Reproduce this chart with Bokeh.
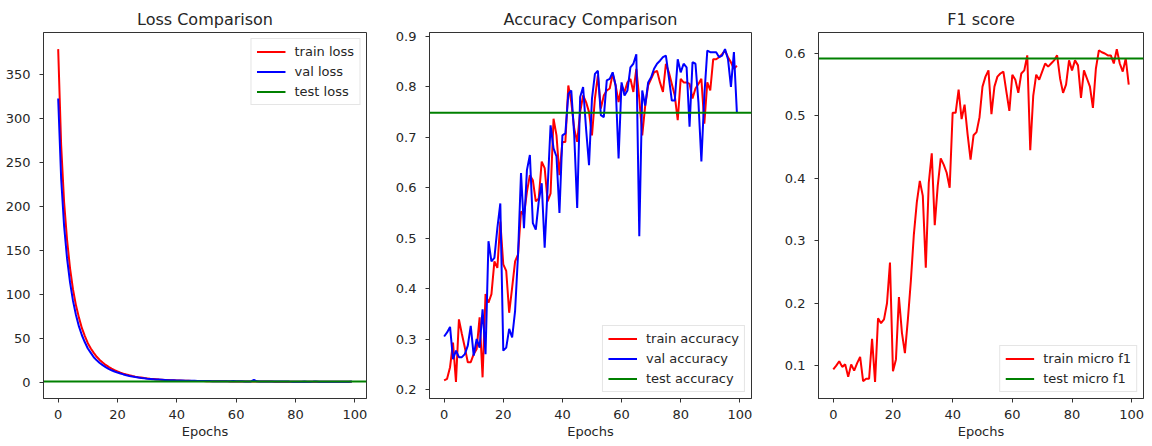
from bokeh.plotting import figure
from bokeh.layouts import row
from bokeh.models import Range1d, FixedTicker, Legend, LegendItem
from bokeh.embed import file_html
from bokeh.resources import INLINE

epochs = list(range(100))

train_loss = [379, 270, 205, 162, 130, 106, 88, 74, 62, 53,
              45, 39, 34, 29.5, 26, 23, 20.3, 18, 16, 14.3,
              12.8, 11.5, 10.4, 9.4, 8.5, 7.7, 7.0, 6.4, 5.9, 5.4,
              5.0, 4.6, 4.3, 4.0, 3.7, 3.5, 3.3, 3.1, 2.9, 2.75,
              2.6, 2.5, 2.4, 2.3, 2.2, 2.1, 2.05, 2.0, 1.95, 1.9,
              1.85, 1.8, 1.78, 1.75, 1.7, 1.68, 1.65, 1.6, 1.58, 1.55,
              1.52, 1.5, 1.48, 1.45, 1.43, 1.42, 1.45, 1.4, 1.38, 1.36,
              1.35, 1.33, 1.32, 1.3, 1.29, 1.28, 1.27, 1.26, 1.25, 1.24,
              1.23, 1.22, 1.21, 1.2, 1.19, 1.18, 1.17, 1.16, 1.15, 1.14,
              1.13, 1.12, 1.11, 1.1, 1.09, 1.08, 1.07, 1.06, 1.05, 1.04]
val_loss = [323, 232, 178, 141, 114, 93, 77, 64, 54, 46,
            39, 34, 29, 25.5, 22.5, 20, 17.8, 15.8, 14.2, 12.8,
            11.6, 10.5, 9.5, 8.6, 7.8, 7.1, 6.5, 6.0, 5.5, 5.1,
            4.7, 4.4, 4.1, 3.8, 3.6, 3.4, 3.2, 3.0, 2.9, 2.8,
            2.65, 2.55, 2.45, 2.35, 2.3, 2.25, 2.2, 2.1, 2.05, 2.1,
            1.95, 1.9, 1.85, 1.85, 1.8, 1.75, 1.75, 1.7, 1.7, 1.9,
            1.65, 1.65, 1.6, 1.55, 1.55, 1.5, 3.2, 1.6, 1.55, 1.5,
            1.45, 1.45, 1.4, 1.4, 1.4, 1.35, 1.4, 1.45, 1.35, 1.3,
            1.3, 1.3, 1.3, 1.45, 1.25, 1.25, 1.35, 1.5, 1.3, 1.2,
            1.2, 1.2, 1.2, 1.2, 1.2, 1.15, 1.2, 1.25, 1.15, 1.4]
test_loss = 1.5

train_acc = [0.218, 0.221, 0.244, 0.293, 0.215, 0.339, 0.310, 0.283, 0.254, 0.254,
             0.270, 0.280, 0.343, 0.224, 0.389, 0.372, 0.389, 0.454, 0.441, 0.533,
             0.448, 0.435, 0.352, 0.402, 0.454, 0.468, 0.553, 0.546, 0.592, 0.625,
             0.615, 0.573, 0.579, 0.652, 0.639, 0.573, 0.589, 0.737, 0.704, 0.625,
             0.691, 0.691, 0.803, 0.770, 0.717, 0.691, 0.750, 0.783, 0.770, 0.750,
             0.704, 0.777, 0.823, 0.757, 0.783, 0.793, 0.797, 0.826, 0.803, 0.770,
             0.803, 0.790, 0.809, 0.816, 0.790, 0.836, 0.777, 0.704, 0.763, 0.803,
             0.816, 0.829, 0.832, 0.809, 0.790, 0.846, 0.829, 0.806, 0.783, 0.734,
             0.816, 0.809, 0.809, 0.806, 0.777, 0.797, 0.806, 0.816, 0.727, 0.809,
             0.793, 0.855, 0.855, 0.859, 0.865, 0.872, 0.859, 0.849, 0.836, 0.842]
val_acc = [0.305, 0.313, 0.324, 0.260, 0.277, 0.264, 0.264, 0.270, 0.287, 0.326,
           0.267, 0.300, 0.283, 0.359, 0.270, 0.494, 0.454, 0.461, 0.520, 0.569,
           0.277, 0.283, 0.320, 0.303, 0.356, 0.468, 0.629, 0.520, 0.635, 0.665,
           0.530, 0.517, 0.573, 0.609, 0.481, 0.599, 0.724, 0.678, 0.662, 0.550,
           0.704, 0.708, 0.786, 0.793, 0.704, 0.560, 0.780, 0.800, 0.717, 0.645,
           0.777, 0.826, 0.832, 0.744, 0.740, 0.813, 0.816, 0.829, 0.803, 0.658,
           0.809, 0.783, 0.793, 0.839, 0.846, 0.865, 0.504, 0.793, 0.763, 0.809,
           0.819, 0.836, 0.846, 0.852, 0.859, 0.862, 0.819, 0.773, 0.773, 0.855,
           0.829, 0.846, 0.839, 0.721, 0.849, 0.846, 0.770, 0.652, 0.783, 0.872,
           0.869, 0.869, 0.869, 0.859, 0.862, 0.875, 0.855, 0.800, 0.869, 0.750]
test_acc = 0.749

train_f1 = [0.094, 0.100, 0.107, 0.098, 0.102, 0.082, 0.102, 0.092, 0.104, 0.114,
            0.075, 0.079, 0.079, 0.143, 0.074, 0.176, 0.168, 0.174, 0.200, 0.265,
            0.091, 0.110, 0.210, 0.153, 0.120, 0.174, 0.236, 0.310, 0.362, 0.396,
            0.372, 0.257, 0.393, 0.440, 0.325, 0.388, 0.432, 0.422, 0.409, 0.385,
            0.505, 0.505, 0.542, 0.495, 0.518, 0.471, 0.430, 0.469, 0.474, 0.498,
            0.547, 0.563, 0.573, 0.503, 0.547, 0.563, 0.568, 0.571, 0.539, 0.508,
            0.566, 0.558, 0.537, 0.568, 0.573, 0.597, 0.445, 0.532, 0.566, 0.558,
            0.571, 0.584, 0.579, 0.584, 0.589, 0.597, 0.560, 0.537, 0.550, 0.589,
            0.573, 0.589, 0.581, 0.529, 0.573, 0.560, 0.547, 0.513, 0.576, 0.605,
            0.602, 0.600, 0.597, 0.597, 0.584, 0.607, 0.584, 0.571, 0.592, 0.550]
test_f1 = 0.592

x_ticks = [0, 20, 40, 60, 80, 100]
loss_ticks = [0, 50, 100, 150, 200, 250, 300, 350]
acc_ticks = [0.2, 0.3, 0.4, 0.5, 0.6, 0.7, 0.8, 0.9]
f1_ticks = [0.1, 0.2, 0.3, 0.4, 0.5, 0.6]

FONT = "DejaVu Sans"
TXT = "#262626"
EDGE = "#333333"


def padded(vals):
    lo, hi = min(vals), max(vals)
    d = (hi - lo) * 0.05
    return lo - d, hi + d


x_lo, x_hi = padded(epochs)


def make_fig(title, yvals, yticks, w, h, bl, br, bt, bb):
    y_lo, y_hi = padded(yvals)
    p = figure(width=w, height=h, output_backend="svg", toolbar_location=None,
               x_range=Range1d(x_lo, x_hi), y_range=Range1d(y_lo, y_hi),
               min_border_left=bl, min_border_right=br, min_border_top=bt,
               min_border_bottom=bb, title=title)
    p.title.text_font = FONT
    p.title.text_font_size = "16px"
    p.title.text_font_style = "normal"
    p.title.text_color = TXT
    p.title.align = "center"
    p.title.standoff = 7
    p.xgrid.visible = False
    p.ygrid.visible = False
    p.outline_line_color = EDGE
    p.outline_line_width = 1
    p.outline_line_alpha = 1
    p.background_fill_color = "white"
    p.border_fill_color = "white"
    p.xaxis.ticker = FixedTicker(ticks=x_ticks)
    p.yaxis.ticker = FixedTicker(ticks=yticks)
    p.xaxis.axis_label = "Epochs"
    for ax in (p.xaxis, p.yaxis):
        ax.axis_line_color = EDGE
        ax.major_tick_line_color = EDGE
        ax.major_tick_out = 4
        ax.major_tick_in = 0
        ax.minor_tick_line_color = None
        ax.major_label_text_font = FONT
        ax.major_label_text_font_size = "13px"
        ax.major_label_text_color = TXT
        ax.axis_label_text_font = FONT
        ax.axis_label_text_font_size = "13px"
        ax.axis_label_text_font_style = "normal"
        ax.axis_label_text_color = TXT
    p.xaxis.major_label_standoff = 7
    p.xaxis.axis_label_standoff = 2
    p.yaxis.major_label_standoff = 9
    return p


def style_legend(p, items, loc):
    leg = Legend(items=items, location=loc)
    leg.label_text_font = FONT
    leg.label_text_font_size = "13px"
    leg.label_text_color = TXT
    leg.glyph_width = 29
    leg.glyph_height = 15
    leg.label_height = 15
    leg.label_standoff = 9
    leg.spacing = 5
    leg.padding = 5
    leg.margin = 6
    leg.border_line_color = "#cccccc"
    leg.border_line_width = 1
    leg.background_fill_color = "white"
    leg.background_fill_alpha = 0.8
    p.add_layout(leg)


# Loss panel
p1 = make_fig("Loss Comparison", train_loss + val_loss + [test_loss], loss_ticks,
              383, 446, 43, 17, 31, 48)
r1 = p1.line(epochs, train_loss, line_color="red", line_width=2)
r2 = p1.line(epochs, val_loss, line_color="blue", line_width=2)
r3 = p1.line([x_lo, x_hi], [test_loss, test_loss], line_color="green", line_width=2)
style_legend(p1, [LegendItem(label="train loss", renderers=[r1]),
                  LegendItem(label="val loss", renderers=[r2]),
                  LegendItem(label="test loss", renderers=[r3])], "top_right")

# Accuracy panel
p2 = make_fig("Accuracy Comparison", train_acc + val_acc + [test_acc], acc_ticks,
              387, 446, 46, 19, 32, 48)
a1 = p2.line(epochs, train_acc, line_color="red", line_width=2)
a2 = p2.line(epochs, val_acc, line_color="blue", line_width=2)
a3 = p2.line([x_lo, x_hi], [test_acc, test_acc], line_color="green", line_width=2)
style_legend(p2, [LegendItem(label="train accuracy", renderers=[a1]),
                  LegendItem(label="val accuracy", renderers=[a2]),
                  LegendItem(label="test accuracy", renderers=[a3])], "bottom_right")

# F1 panel
p3 = make_fig("F1 score", train_f1 + [test_f1], f1_ticks,
              382, 446, 48, 9, 28, 46)
f1r = p3.line(epochs, train_f1, line_color="red", line_width=2)
f2r = p3.line([x_lo, x_hi], [test_f1, test_f1], line_color="green", line_width=2)
style_legend(p3, [LegendItem(label="train micro f1", renderers=[f1r]),
                  LegendItem(label="test micro f1", renderers=[f2r])], "bottom_right")

layout = row(p1, p2, p3)
open("out.html", "w").write(file_html(layout, INLINE))
